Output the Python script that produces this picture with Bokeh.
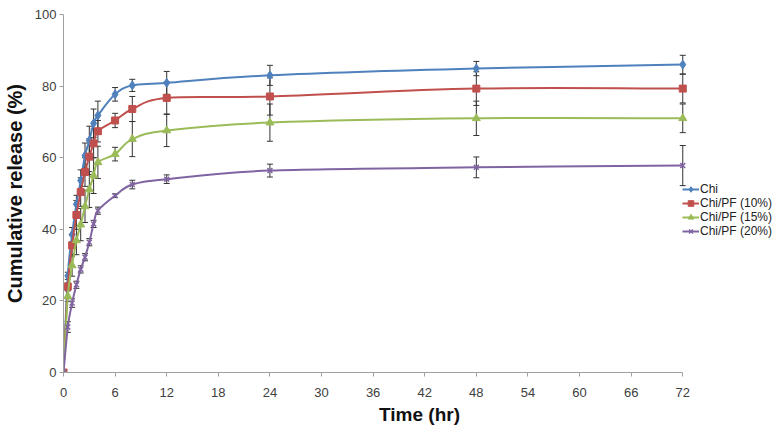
import numpy as np
from bokeh.plotting import figure
from bokeh.models import (ColumnDataSource, Whisker, TeeHead, Legend, LegendItem,
                          FixedTicker, Range1d)
from bokeh.embed import file_html
from bokeh.resources import INLINE

# ---------------- data ----------------
time_hr = [0, 0.5, 1, 1.5, 2, 2.5, 3, 3.5, 4, 6, 8, 12, 24, 48, 72]

chi      = [0, 27.0, 38.5, 47.0, 53.6, 60.6, 64.8, 69.6, 71.8, 77.7, 80.2, 80.9, 83.0, 84.9, 86.0]
chi_pf10 = [0, 24.0, 35.5, 44.0, 50.4, 56.0, 60.3, 64.0, 67.4, 70.4, 73.6, 76.7, 77.1, 79.3, 79.3]
chi_pf15 = [0, 21.3, 29.9, 36.9, 41.3, 46.4, 51.1, 55.0, 58.7, 61.0, 65.2, 67.6, 69.8, 71.0, 71.0]
chi_pf20 = [0, 12.7, 19.4, 24.5, 28.8, 32.2, 36.4, 41.5, 45.2, 49.4, 52.5, 54.0, 56.4, 57.3, 57.8]

chi_err      = [0, 1.0, 2.0, 2.5, 3.0, 3.5, 4.0, 4.0, 4.0, 1.9, 1.7, 3.2, 2.8, 2.0, 2.6]
chi_pf10_err = [0, 1.0, 3.0, 4.0, 4.0, 4.0, 5.0, 4.0, 3.0, 2.0, 3.5, 4.5, 5.2, 4.7, 4.0]
chi_pf15_err = [0, 1.5, 3.0, 4.0, 4.5, 4.5, 5.0, 5.0, 4.5, 1.9, 4.9, 4.5, 5.2, 4.8, 4.0]
chi_pf20_err = [0, 1.5, 1.2, 1.0, 1.0, 1.0, 1.0, 1.0, 1.0, 0.5, 1.2, 1.2, 1.8, 2.9, 5.6]

series_names = ["Chi", "Chi/PF (10%)", "Chi/PF (15%)", "Chi/PF (20%)"]

x_ticks = [0, 6, 12, 18, 24, 30, 36, 42, 48, 54, 60, 66, 72]
y_ticks = [0, 20, 40, 60, 80, 100]

# ---------------- styles ----------------
colors = ["#4F81BD", "#C0504D", "#9BBB59", "#8064A2"]
markers = ["diamond", "square", "triangle", "x"]
msizes = [9, 7, 8, 7]

FONT = "Liberation Sans"

# frame spans 61..775 px; axis drawn only over 0..72 (8.625 px per hour)
X_VIEW_END = 72 + (775 - 682) / 8.625

p = figure(width=775, height=430, output_backend="svg", toolbar_location=None,
           x_range=Range1d(0, X_VIEW_END), y_range=Range1d(0, 100),
           min_border_left=61, min_border_right=0, min_border_top=14,
           min_border_bottom=58)
p.outline_line_color = None
p.xgrid.grid_line_color = None
p.ygrid.grid_line_color = None

for ax in (p.xaxis[0], p.yaxis[0]):
    ax.axis_line_color = "#A0A0A0"
    ax.major_tick_line_color = "#A0A0A0"
    ax.minor_tick_line_color = None
    ax.major_tick_in = 0
    ax.major_tick_out = 4
    ax.major_label_text_font = FONT
    ax.major_label_text_font_size = "13px"
    ax.major_label_text_color = "#404040"
    ax.axis_label_text_font = FONT
    ax.axis_label_text_font_style = "bold"
    ax.axis_label_text_color = "#111111"

p.xaxis.bounds = (0, 72)
p.xaxis.ticker = FixedTicker(ticks=x_ticks)
p.yaxis.ticker = FixedTicker(ticks=y_ticks)
p.xaxis.major_label_standoff = 11
p.yaxis.major_label_standoff = 3
p.xaxis.axis_label = "Time (hr)"
p.yaxis.axis_label = "Cumulative release (%)"
p.xaxis.axis_label_text_font_size = "19px"
p.yaxis.axis_label_text_font_size = "20px"
p.xaxis.axis_label_standoff = 4
p.yaxis.axis_label_standoff = 6


def smooth_segments(xs, ys, t=1.0 / 6.0):
    xs = np.asarray(xs, float)
    ys = np.asarray(ys, float)
    n = len(xs)
    xp = np.concatenate([[xs[0]], xs, [xs[-1]]])
    yp = np.concatenate([[ys[0]], ys, [ys[-1]]])
    i = np.arange(n - 1)
    x0, y0 = xs[:-1], ys[:-1]
    x1, y1 = xs[1:], ys[1:]
    cx0 = x0 + (xp[i + 2] - xp[i]) * t
    cy0 = y0 + (yp[i + 2] - yp[i]) * t
    cx1 = x1 - (xp[i + 3] - xp[i + 1]) * t
    cy1 = y1 - (yp[i + 3] - yp[i + 1]) * t
    return dict(x0=x0, y0=y0, x1=x1, y1=y1, cx0=cx0, cy0=cy0, cx1=cx1, cy1=cy1)


all_vals = [chi, chi_pf10, chi_pf15, chi_pf20]
all_errs = [chi_err, chi_pf10_err, chi_pf15_err, chi_pf20_err]
items = []
for name, vals, errs, c, m, ms in zip(series_names, all_vals, all_errs, colors, markers, msizes):
    seg = ColumnDataSource(smooth_segments(time_hr, vals))
    curve = p.bezier(x0="x0", y0="y0", x1="x1", y1="y1", cx0="cx0", cy0="cy0",
                     cx1="cx1", cy1="cy1", source=seg, line_color=c, line_width=2)
    tv = [t for t, e in zip(time_hr, errs) if e > 0]
    lo = [v - e for v, e in zip(vals, errs) if e > 0]
    hi = [v + e for v, e in zip(vals, errs) if e > 0]
    esrc = ColumnDataSource(dict(x=tv, lower=lo, upper=hi))
    w = Whisker(base="x", lower="lower", upper="upper", source=esrc,
                line_color="#333333", line_width=1,
                upper_head=TeeHead(size=6, line_color="#333333", line_width=1),
                lower_head=TeeHead(size=6, line_color="#333333", line_width=1))
    p.add_layout(w)
    pts = p.scatter(time_hr, vals, marker=m, size=ms, fill_color=c, line_color=c,
                    line_width=1.5 if m == "x" else 1)
    items.append(LegendItem(label=name, renderers=[curve, pts], index=0))

legend = Legend(items=items, location=(619, 134), orientation="vertical",
                label_text_font=FONT, label_text_font_size="12px",
                label_text_color="#222222", glyph_width=17, glyph_height=14,
                label_height=14, spacing=0, label_standoff=1, padding=0, margin=0,
                border_line_alpha=0, background_fill_alpha=0)
p.add_layout(legend, "center")

open("out.html", "w").write(file_html(p, INLINE))
